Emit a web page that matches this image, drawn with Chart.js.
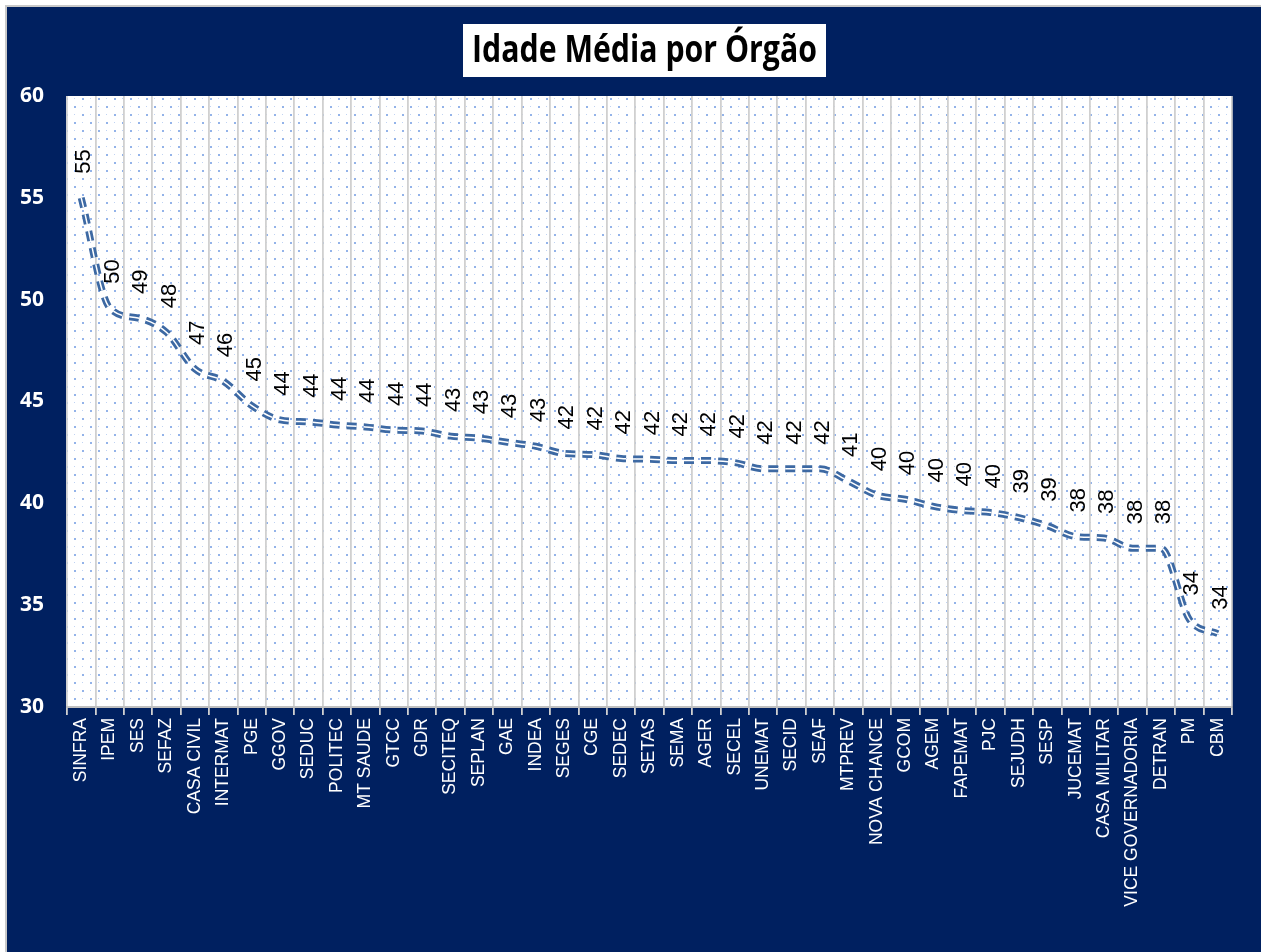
<!DOCTYPE html>
<html>
<head>
<meta charset="utf-8">
<script src="https://cdn.jsdelivr.net/npm/chart.js@4.4.1/dist/chart.umd.min.js"></script>
<style>
  html, body { margin: 0; padding: 0; background: #fff; }
  #wrap {
    position: absolute; left: 5px; top: 5px;
    width: 1256px; height: 947px;
    border-left: 2px solid #c9c9c9; border-top: 2px solid #c9c9c9;
    background: #002060;
  }
</style>
</head>
<body>
<div id="wrap"><canvas id="chart"></canvas></div>
<script>
const chartTitle = 'Idade Média por Órgão';

const orgaos = [
  'SINFRA', 'IPEM', 'SES', 'SEFAZ', 'CASA CIVIL', 'INTERMAT', 'PGE', 'GGOV', 'SEDUC', 'POLITEC',
  'MT SAUDE', 'GTCC', 'GDR', 'SECITEQ', 'SEPLAN', 'GAE', 'INDEA', 'SEGES', 'CGE', 'SEDEC',
  'SETAS', 'SEMA', 'AGER', 'SECEL', 'UNEMAT', 'SECID', 'SEAF', 'MTPREV', 'NOVA CHANCE', 'GCOM',
  'AGEM', 'FAPEMAT', 'PJC', 'SEJUDH', 'SESP', 'JUCEMAT', 'CASA MILITAR', 'VICE GOVERNADORIA', 'DETRAN', 'PM',
  'CBM'
];

const idadeMedia = [
  55.0, 49.6, 49.1, 48.4, 46.6, 46.0, 44.8, 44.1, 44.0, 43.85,
  43.75, 43.6, 43.55, 43.3, 43.2, 43.0, 42.8, 42.45, 42.4, 42.2,
  42.17, 42.1, 42.1, 42.0, 41.7, 41.7, 41.7, 41.1, 40.4, 40.2,
  39.85, 39.65, 39.55, 39.3, 38.9, 38.37, 38.3, 37.8, 37.8, 34.3,
  33.6
];

const yMin = 30;
const yMax = 60;
const yStep = 5;

// dotted fill of the plot area
function makeDots(ctx) {
  const c = document.createElement('canvas');
  c.width = 16; c.height = 16;
  const p = c.getContext('2d');
  p.fillStyle = '#ffffff';
  p.fillRect(0, 0, 16, 16);
  p.fillStyle = 'rgba(120,160,228,0.8)';
  p.fillRect(3, 3, 2, 2);
  p.fillRect(11, 11, 2, 2);
  p.fillStyle = 'rgba(150,182,235,0.6)';
  p.fillRect(11, 3, 1, 1);
  p.fillRect(3, 11, 1, 1);
  return ctx.createPattern(c, 'repeat');
}

const plotBackground = {
  id: 'plotBackground',
  beforeDraw(chart) {
    const { ctx, chartArea } = chart;
    ctx.save();
    ctx.fillStyle = makeDots(ctx);
    ctx.fillRect(chartArea.left, chartArea.top, chartArea.right - chartArea.left, chartArea.bottom - chartArea.top);
    ctx.restore();
  }
};

const boxTitle = {
  id: 'boxTitle',
  afterDraw(chart) {
    const { ctx, chartArea } = chart;
    const cx = (chartArea.left + chartArea.right) / 2 - 4;
    const targetW = 345;
    ctx.save();
    ctx.font = 'bold 37px "Open Sans", "Liberation Sans", sans-serif';
    const w = ctx.measureText(chartTitle).width;
    const sx = targetW / w;
    ctx.fillStyle = '#ffffff';
    ctx.fillRect(cx - targetW / 2 - 10, 17, targetW + 18, 53);
    ctx.fillStyle = '#000000';
    ctx.textBaseline = 'middle';
    ctx.textAlign = 'center';
    ctx.translate(cx - 1, 44);
    ctx.scale(sx, 1);
    ctx.fillText(chartTitle, 0, 0);
    ctx.restore();
  }
};

const valueLabels = {
  id: 'valueLabels',
  afterDatasetsDraw(chart) {
    const { ctx } = chart;
    const meta = chart.getDatasetMeta(0);
    ctx.save();
    ctx.fillStyle = '#000000';
    ctx.font = '22px "Liberation Sans", Arial, sans-serif';
    ctx.textAlign = 'left';
    ctx.textBaseline = 'middle';
    meta.data.forEach((pt, i) => {
      ctx.save();
      ctx.translate(pt.x + 3, pt.y - 24);
      ctx.rotate(-Math.PI / 2);
      ctx.fillText(String(Math.round(idadeMedia[i])), 0, 0);
      ctx.restore();
    });
    ctx.restore();
  }
};

new Chart(document.getElementById('chart'), {
  type: 'line',
  data: {
    labels: orgaos,
    datasets: [
      {
        label: 'Idade Média',
        data: idadeMedia,
        borderColor: '#3d69a3',
        borderWidth: 7,
        borderDash: [10, 7],
        cubicInterpolationMode: 'monotone',
        pointRadius: 0,
        fill: false,
        order: 2
      },
      {
        label: 'contorno',
        data: idadeMedia,
        borderColor: '#ffffff',
        borderWidth: 1.5,
        borderDash: [10, 7],
        cubicInterpolationMode: 'monotone',
        pointRadius: 0,
        fill: false,
        order: 1
      }
    ]
  },
  options: {
    responsive: true,
    maintainAspectRatio: false,
    animation: false,
    layout: { padding: { top: 89, right: 31, left: 0, bottom: 0 } },
    plugins: {
      legend: { display: false },
      tooltip: { enabled: false },
      title: { display: false }
    },
    scales: {
      x: {
        offset: true,
        afterFit: (scale) => { scale.height = 247; },
        grid: {
          offset: true,
          color: '#d0d0d0',
          lineWidth: 1.8,
          tickLength: 8,
          drawOnChartArea: true
        },
        border: { color: '#c0c0c0', width: 2 },
        ticks: {
          color: '#ffffff',
          minRotation: 90,
          maxRotation: 90,
          autoSkip: false,
          padding: 3,
          font: { family: '"Liberation Sans", Arial, sans-serif', size: 17.5 }
        }
      },
      y: {
        min: yMin,
        max: yMax,
        afterFit: (scale) => { scale.width = 60; },
        grid: { display: false, drawTicks: false },
        border: { display: false },
        ticks: {
          stepSize: yStep,
          color: '#ffffff',
          padding: 23,
          font: { family: '"Open Sans", sans-serif', size: 21, weight: 'bold' }
        }
      }
    }
  },
  plugins: [plotBackground, boxTitle, valueLabels]
});
</script>
</body>
</html>
